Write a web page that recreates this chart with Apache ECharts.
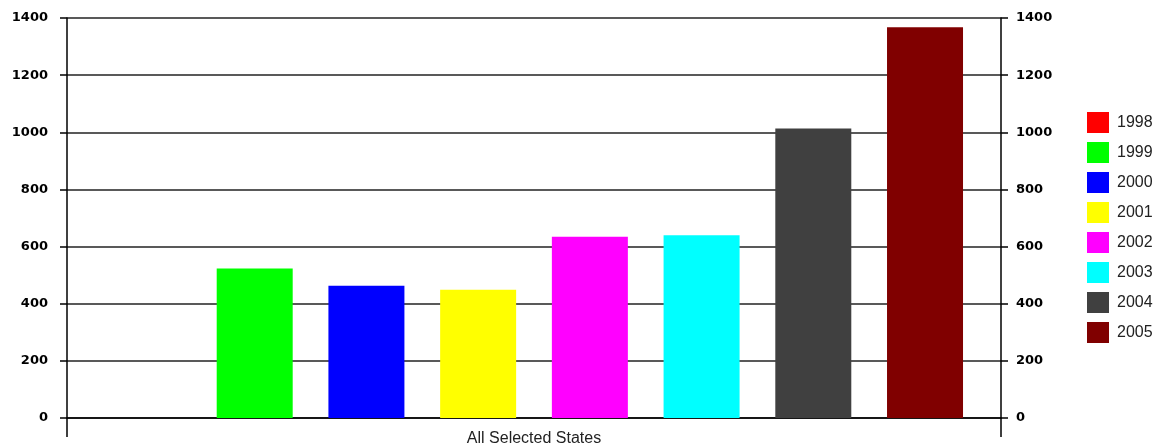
<!DOCTYPE html>
<html>
<head>
<meta charset="utf-8">
<script src="https://cdn.jsdelivr.net/npm/echarts@6/dist/echarts.min.js"></script>
<style>
html,body{margin:0;padding:0;background:#fff;}
#chart{width:1163px;height:447px;}
</style>
</head>
<body>
<div id="chart"></div>
<script>
const categories = ['All Selected States'];
const years = ['1998','1999','2000','2001','2002','2003','2004','2005'];
const values = [0, 523, 463, 449, 634, 640, 1013, 1368];
const colors = ['#FF0000','#00FF00','#0000FF','#FFFF00','#FF00FF','#00FFFF','#404040','#800000'];
const yTicks = { min: 0, max: 1400, interval: 200 };

const chart = echarts.init(document.getElementById('chart'), null, {renderer:'canvas'});
const axisLabelY = { fontFamily: 'DejaVu Sans', fontWeight: 'bold', fontSize: 13, color: '#000', formatter: v => String(v) };
const option = {
  animation: false,
  backgroundColor: '#fff',
  grid: { left: 67, right: 162, top: 18, bottom: 29, containLabel: false },
  legend: {
    orient: 'vertical', left: 1087, top: 112, padding: 0,
    itemWidth: 22, itemHeight: 21, itemGap: 9,
    icon: 'rect',
    textStyle: { fontFamily: 'Liberation Sans', fontSize: 16, color: '#222', padding: [0,0,0,3] },
    data: years
  },
  xAxis: {
    type: 'category', data: categories,
    axisLine: { show: true, lineStyle: { color: '#000', width: 1.5 } },
    axisTick: { show: true, length: 19, alignWithLabel: false, lineStyle: { color: '#000', width: 1.5 } },
    axisLabel: { fontFamily: 'Liberation Sans', fontSize: 16, color: '#222', margin: 13 },
    splitLine: { show: false }
  },
  yAxis: [
    {
      type: 'value', position: 'left', min: yTicks.min, max: yTicks.max, interval: yTicks.interval,
      axisLine: { show: true, lineStyle: { color: '#000', width: 1.5 } },
      axisTick: { show: true, length: 7, lineStyle: { color: '#000', width: 1.5 } },
      axisLabel: Object.assign({ margin: 19 }, axisLabelY),
      splitLine: { show: true, lineStyle: { color: '#222', width: 1.5 } }
    },
    {
      type: 'value', position: 'right', min: yTicks.min, max: yTicks.max, interval: yTicks.interval,
      axisLine: { show: true, lineStyle: { color: '#000', width: 1.5 } },
      axisTick: { show: true, length: 7, lineStyle: { color: '#000', width: 1.5 } },
      axisLabel: Object.assign({ margin: 15 }, axisLabelY),
      splitLine: { show: false }
    }
  ],
  series: years.map((y, i) => ({
    name: y, type: 'bar', data: [values[i]],
    barWidth: 76, barGap: '47%',
    itemStyle: { color: colors[i] }
  }))
};
chart.setOption(option);
</script>
</body>
</html>
